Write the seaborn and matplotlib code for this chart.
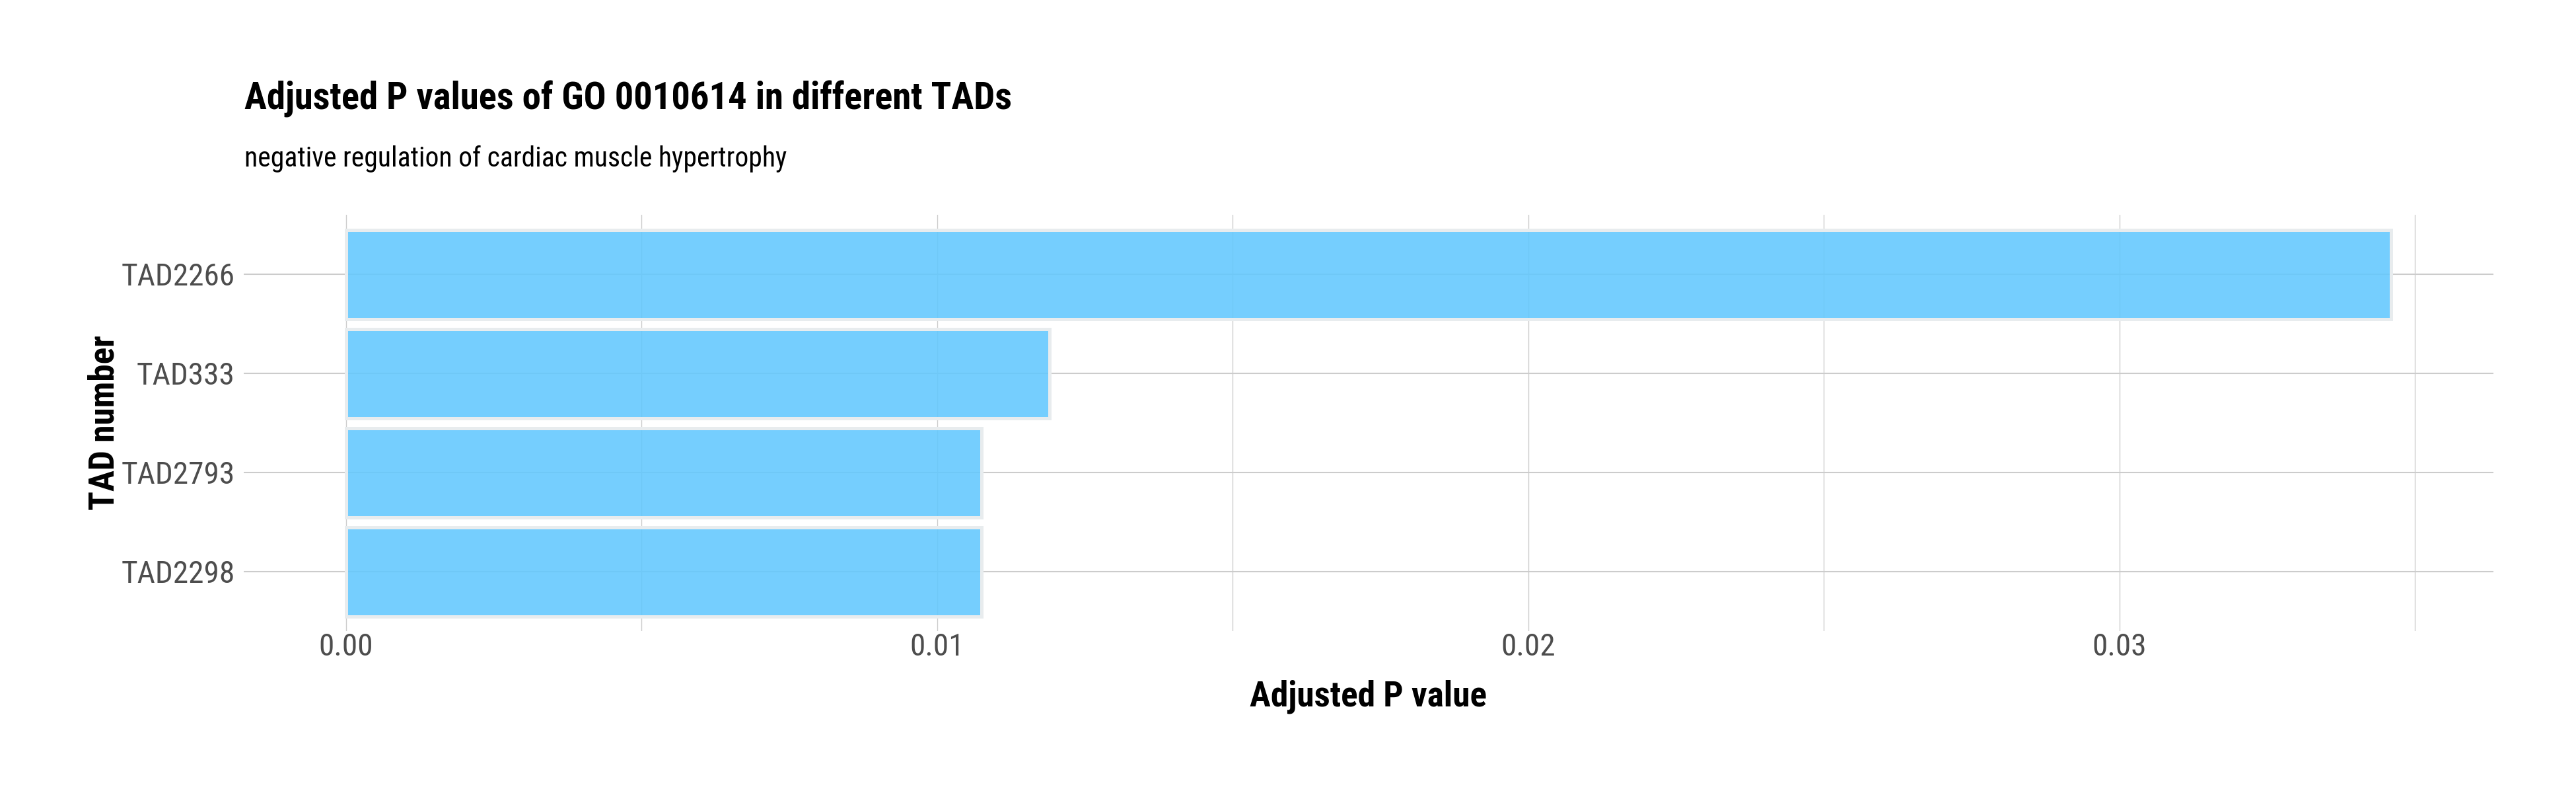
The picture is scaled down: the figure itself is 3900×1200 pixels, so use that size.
import os
import seaborn as sns
import matplotlib.pyplot as plt
from matplotlib import font_manager
from matplotlib.font_manager import FontProperties
from matplotlib.ticker import MultipleLocator, FixedLocator
import pandas as pd

# data
tads = ["TAD2266", "TAD333", "TAD2793", "TAD2298"]
adj_p = [0.0346, 0.0119, 0.01075, 0.01075]
x_ticks = [0.00, 0.01, 0.02, 0.03]
x_tick_labels = ["0.00", "0.01", "0.02", "0.03"]

df = pd.DataFrame({"TAD": tads, "p": adj_p})

sns.set_theme(style="white")
plt.rcParams["font.family"] = ["Liberation Sans", "DejaVu Sans"]

# the reference uses Arial Narrow; look for some narrow face on disk
files = {os.path.basename(f.fname).lower(): f.fname
         for f in font_manager.fontManager.ttflist}


def pick(cands):
    for c in cands:
        if c.lower() in files:
            return files[c.lower()]
    return None


reg_file = pick(["LiberationSansNarrow-Regular.ttf", "ArialNarrow.ttf",
                 "RobotoCondensed-Regular.ttf", "Roboto_Condensed-Regular.ttf",
                 "DejaVuSansCondensed.ttf"])
bold_file = pick(["LiberationSansNarrow-Bold.ttf", "ArialNarrowBold.ttf",
                  "RobotoCondensed-Bold.ttf", "Roboto_Condensed-Bold.ttf",
                  "DejaVuSansCondensed-Bold.ttf"])


def fp(bold, size):
    f = bold_file if bold else reg_file
    if f:
        return FontProperties(fname=f, size=size)
    return FontProperties(family=["Liberation Sans", "DejaVu Sans"],
                          weight="bold" if bold else "normal", size=size)


W, H, DPI = 3900, 1200, 100
fig = plt.figure(figsize=(W / DPI, H / DPI), dpi=DPI)
ax = fig.add_axes([369 / W, 1 - 955 / H, (3775 - 369) / W, (955 - 325) / H])

sns.barplot(
    data=df, x="p", y="TAD", order=tads, orient="h",
    color="#62C8FE", saturation=1, width=0.9,
    edgecolor="#E8ECEE", linewidth=3.6, ax=ax, zorder=3,
)
for p in ax.patches:
    p.set_facecolor((0.384, 0.784, 0.996, 0.88))

# ggplot-like expansion
pmax = max(adj_p)
ax.set_xlim(-0.05 * pmax, 1.05 * pmax)
ax.set_ylim(len(tads) - 1 + 0.6, -0.6)

ax.xaxis.set_major_locator(FixedLocator(x_ticks))
ax.set_xticklabels(x_tick_labels)
ax.xaxis.set_minor_locator(MultipleLocator(0.005))
ax.grid(True, which="major", axis="y", color="#CCCCCC", linewidth=1.5, zorder=0)
ax.grid(True, which="both", axis="x", color="#CCCCCC", linewidth=1.0, zorder=0)
ax.set_axisbelow(True)
for s in ax.spines.values():
    s.set_visible(False)

ax.tick_params(axis="both", which="both", length=0, labelcolor="#4D4D4D")
ax.tick_params(axis="x", pad=1.5)
ax.tick_params(axis="y", pad=9.4)
ax.set_xlabel("")
ax.set_ylabel("")

title = fig.text(370 / W, 1 - 165 / H, "Adjusted P values of GO 0010614 in different TADs",
                 fontproperties=fp(True, 42), color="black", ha="left", va="baseline")
sub = fig.text(370 / W, 1 - 252 / H, "negative regulation of cardiac muscle hypertrophy",
               fontproperties=fp(False, 30), color="black", ha="left", va="baseline")
xlab = fig.text(2072 / W, 1 - 1069 / H, "Adjusted P value", fontproperties=fp(True, 39),
                color="black", ha="center", va="baseline")
ylab = fig.text(158 / W, 1 - 640 / H, "TAD number", fontproperties=fp(True, 39),
                color="black", ha="center", va="center", rotation=90)

ticklabs = ax.get_xticklabels() + ax.get_yticklabels()
for lab in ticklabs:
    lab.set_fontproperties(fp(False, 35.5))

# shrink text when the face is wider than the narrow one in the reference
rend = fig.canvas.get_renderer()


def fit(texts, nominal, target, power, vertical=False):
    bb = [t.get_window_extent(rend) for t in texts]
    w = max(b.height if vertical else b.width for b in bb)
    scale = target / w
    if scale < 1:
        for t in texts:
            t.set_fontsize(nominal * scale ** power)


fit([title], 42, 1149, 0.7)
fit([sub], 30, 827, 0.7)
fit([xlab], 39, 356, 0.7)
fit([ylab], 39, 263, 0.7, vertical=True)
fit(ax.get_yticklabels(), 35.5, 172, 1.0)
ys = ax.get_yticklabels()[0].get_fontsize()
for lab in ax.get_xticklabels():
    lab.set_fontsize(ys)

fig.savefig("out.png", dpi=DPI, facecolor="white")
plt.close(fig)
